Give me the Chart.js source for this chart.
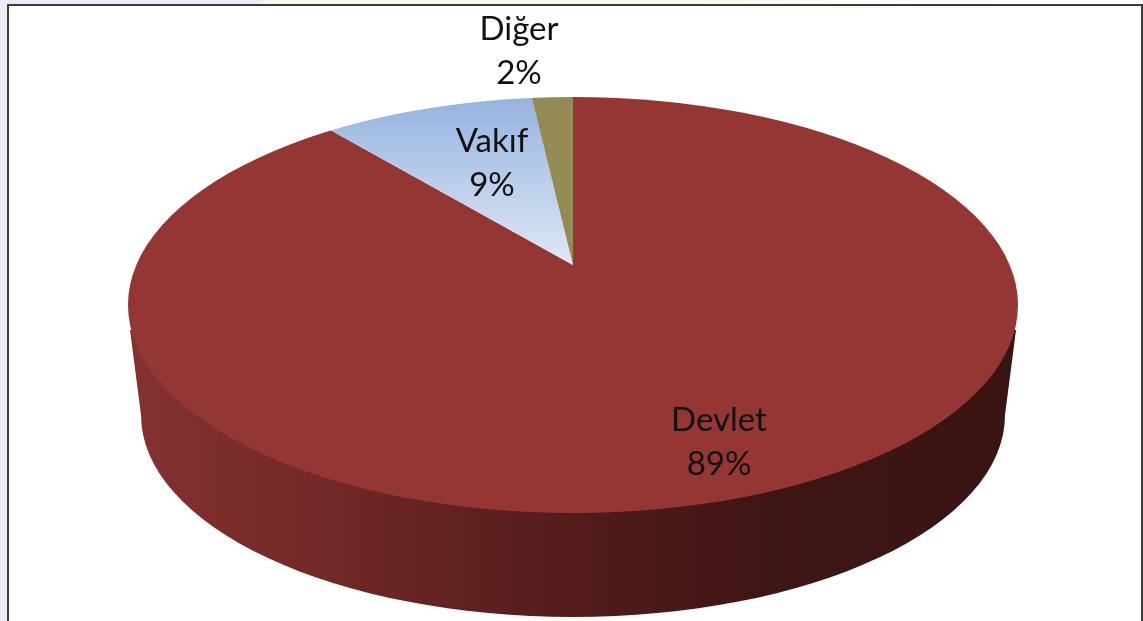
<!DOCTYPE html>
<html><head><meta charset="utf-8">
<script src="https://cdn.jsdelivr.net/npm/chart.js@4"></script>
<style>
html,body{margin:0;padding:0;background:#fff;width:1143px;height:621px;overflow:hidden}
#bgTop{position:absolute;left:0;top:0;width:1143px;height:5px;background:linear-gradient(90deg,#ecebf6 0,#ecebf6 255px,#fdf8ec 270px,#fdf8ec 700px,#fff 1000px)}
#bgLeft{position:absolute;left:0;top:0;width:7px;height:621px;background:#ecebf6}
#frame{position:absolute;left:7px;top:4px;width:1132px;height:640px;border:2px solid #3c3c3c}
canvas{position:absolute;left:0;top:0}
</style></head>
<body>
<div id="bgTop"></div><div id="bgLeft"></div><div id="frame"></div>
<canvas id="c" width="1143" height="621"></canvas>
<script>
const categories = ['Devlet', 'Vakıf', 'Diğer'];
// Slice sizes; they round to the printed 89%, 9%, 2%
const shares = [89, 9.2, 1.8];

// Pseudo-3D projection of the pie
const APEX = {x: 573, y: 265};
const RIM = {x: 573, y: 305, rx: 445, ry: 208};
const FLOOR = {x: 573, y: 415, rx: 432, ry: 202};
const TILT = 0.46, ZOOM = 1.9;
const LABEL_FONT = '33px Lato, Carlito, sans-serif';
const LABEL_SPOTS = [{x: 719, y: 420}, {x: 492, y: 141}, {x: 519, y: 29}];
const LINE_GAP = 44;

const canvas = document.getElementById('c');

function sliceFill(context) {
  const chart = context.chart;
  const i = context.dataIndex;
  if (i === 0) return '#943634';
  if (i === 2) return '#948a54';
  const cy = chart.height / 2;
  const toChartY = y => cy + (y - APEX.y) / (ZOOM * TILT);
  const g = chart.ctx.createLinearGradient(0, toChartY(97), 0, toChartY(265));
  g.addColorStop(0, '#95b3df');
  g.addColorStop(1, '#dfe8f5');
  return g;
}

const pie3d = {
  id: 'pie3d',
  beforeDatasetsDraw(chart) {
    const ctx = chart.ctx;
    const cx = chart.width / 2;
    const cy = chart.height / 2;
    // side wall
    const wall = ctx.createLinearGradient(FLOOR.x - FLOOR.rx, 0, FLOOR.x + FLOOR.rx, 0);
    wall.addColorStop(0, '#833130');
    wall.addColorStop(0.19, '#742a28');
    wall.addColorStop(0.5, '#521c1b');
    wall.addColorStop(0.72, '#3f1615');
    wall.addColorStop(1, '#391413');
    ctx.save();
    ctx.fillStyle = wall;
    ctx.beginPath();
    ctx.moveTo(RIM.x - RIM.rx + 2, RIM.y + 25);
    ctx.ellipse(FLOOR.x, FLOOR.y, FLOOR.rx, FLOOR.ry, 0, Math.PI, 0, true);
    ctx.lineTo(RIM.x + RIM.rx - 2, RIM.y + 25);
    ctx.closePath();
    ctx.fill();
    ctx.restore();
    // top face
    ctx.save();
    ctx.beginPath();
    ctx.ellipse(RIM.x, RIM.y, RIM.rx, RIM.ry, 0, 0, Math.PI * 2);
    ctx.clip();
    ctx.translate(APEX.x, APEX.y);
    ctx.scale(ZOOM, ZOOM * TILT);
    ctx.translate(-cx, -cy);
  },
  afterDatasetsDraw(chart) {
    const ctx = chart.ctx;
    ctx.restore();
    ctx.save();
    ctx.font = LABEL_FONT;
    ctx.fillStyle = '#111';
    ctx.textAlign = 'center';
    ctx.textBaseline = 'middle';
    categories.forEach((name, i) => {
      const p = LABEL_SPOTS[i];
      ctx.fillText(name, p.x, p.y);
      ctx.fillText(Math.round(shares[i]) + '%', p.x, p.y + LINE_GAP);
    });
    ctx.restore();
  }
};

new Chart(canvas, {
  type: 'pie',
  data: {
    labels: categories,
    datasets: [{data: shares, backgroundColor: sliceFill, borderWidth: 0, clip: false}]
  },
  options: {
    responsive: false,
    animation: false,
    layout: {padding: 0},
    plugins: {legend: {display: false}, tooltip: {enabled: false}, title: {display: false}}
  },
  plugins: [pie3d]
});
</script>
</body></html>
